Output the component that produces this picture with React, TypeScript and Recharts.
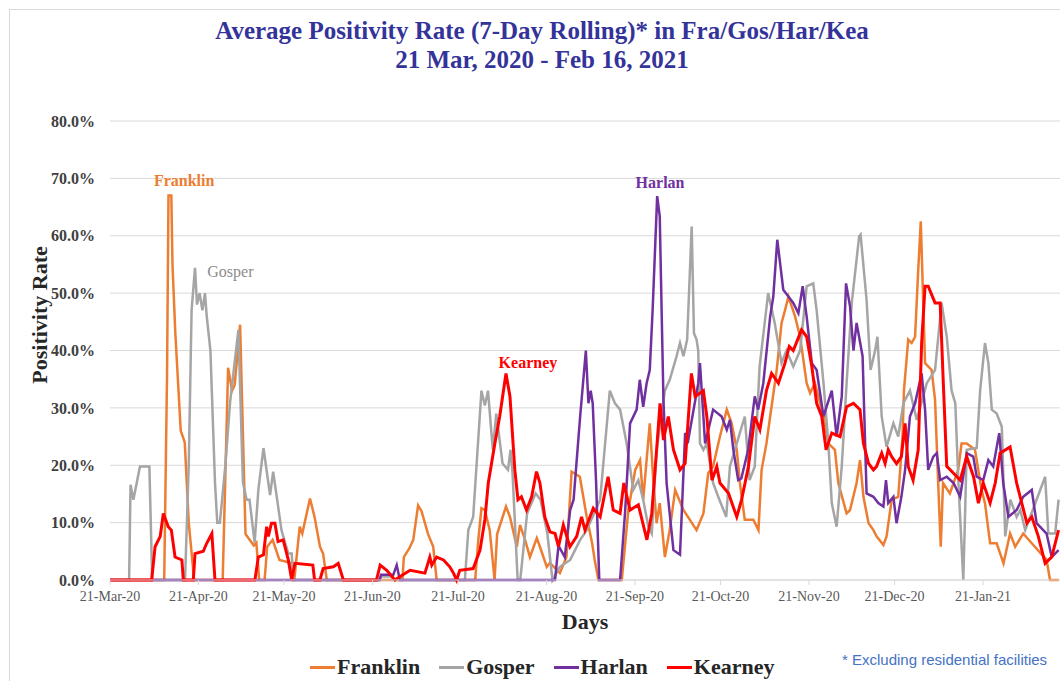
import React from 'react';
import { LineChart, Line, XAxis, YAxis, CartesianGrid, ReferenceDot } from 'recharts';

// day = days since 21-Mar-2020, value = positivity rate in %
const franklin: [number, number][] = [
  [0, 0], [19, 0], [20, 36], [20.5, 67], [21.5, 67], [21.9, 55], [22.9, 43], [24.8, 26], [26.2, 24], [27.6, 10], [29.5, 0],
  [39.5, 0], [41.4, 37], [42.8, 33], [43.7, 34], [45.6, 44.5], [47.5, 8], [50.4, 6], [51.3, 6.5], [52.3, 0],
  [54.2, 0], [55.1, 5.8], [57, 7], [59.4, 3.5], [63.2, 3], [64.1, 0], [64.6, 0], [66.5, 9.3], [67.4, 8.1],
  [70.1, 14.2], [71.7, 11], [73.6, 5.8], [74.7, 4.6], [76, 0], [102.5, 0], [103, 4], [104.9, 5.5], [106.3, 7],
  [108, 13], [109.2, 12], [111.5, 8], [113.3, 5.8], [114.5, 0], [128, 0], [129.1, 7], [130.2, 12.5], [131.4, 12.2],
  [133.1, 8.7], [134.8, 0], [135.7, 8], [138.8, 12.8], [140.2, 11], [142.6, 5.8], [143.7, 9.6], [145.5, 7],
  [147.2, 4], [149.6, 7.3], [150.7, 5.8], [153.1, 2.3], [154.2, 3], [157.7, 1.2], [160, 4], [161.8, 18.9],
  [164.7, 18], [167.1, 11], [169, 6.4], [169.9, 3.5], [171.2, 0], [179.4, 0], [181.7, 12.2], [184.1, 19.2],
  [185.8, 20.9], [186.9, 14], [189.2, 27.3], [190.5, 16.9], [191.6, 9.9], [192.7, 13.4], [194.5, 4], [196.2, 8.7],
  [198.1, 15.7], [201, 12.2], [205.6, 8.7], [208, 11.6], [209.7, 18.6], [211.4, 19.8], [213.8, 25], [216.2, 29.7],
  [217.9, 27.3], [219.7, 22.7], [220.8, 16.9], [222.5, 10.5], [225.5, 10.5], [227.3, 8.7], [228.4, 19.2],
  [230.1, 23.8], [231.4, 28.5], [233.7, 36.6], [235.4, 44.8], [236.6, 47], [237.8, 49.4], [240.1, 46], [241.9, 42.4],
  [244.2, 34.3], [245.4, 32.6], [247.1, 34.3], [250.1, 28.5], [251.8, 23.8], [254.1, 22.7], [255.3, 16.9],
  [258.2, 11.6], [259.4, 12.2], [261.7, 16.9], [262.9, 20.9], [264.1, 14.5], [265.9, 9.9], [267.6, 8.7],
  [268.7, 7.6], [271.1, 6.1], [272.2, 7.6], [274, 14], [276.3, 14.5], [277.8, 25], [278.3, 33], [279.8, 41.9],
  [281, 41.3], [282.2, 42.4], [283.3, 54], [284.2, 62.5], [285.7, 37.8], [288, 36.6], [289.2, 31.4], [290.3, 16.9],
  [291.2, 5.8], [292, 16.9], [294.4, 15.1], [297.3, 19.2], [298.5, 23.8], [300.3, 23.8], [303.2, 22.7],
  [305.5, 15.7], [306.7, 13.4], [308.5, 6.4], [310.8, 6.4], [313.2, 2.9], [315.5, 8.1], [317.3, 5.8],
  [320.1, 8.1], [323.1, 6.4], [328.3, 3.5], [329.5, 0], [332.5, 0],
];

const gosper: [number, number][] = [
  [0, 0], [6.7, 0], [7.2, 16.6], [8.2, 14], [10.5, 19.8], [13.8, 19.8], [14.8, 0], [26.3, 0], [27.6, 20],
  [28.6, 47], [29.8, 54.4], [30.5, 48], [31.4, 50], [32.4, 47], [33.3, 50], [33.9, 46], [35.2, 40], [36.8, 17],
  [37.6, 10], [38.5, 10], [39.3, 14], [40.4, 19.8], [42.1, 31], [45, 43.6], [46.6, 17], [47.9, 14], [48.9, 14],
  [50.7, 6.5], [52, 15.7], [53.8, 23], [56.1, 14.8], [57.2, 18.9], [60.1, 8.7], [62.5, 4.6], [63.7, 4.6],
  [64.2, 0], [94.5, 0], [95, 0.6], [98.7, 0.6], [99.7, 0], [124.4, 0], [125.6, 8.7], [127.3, 11], [130.2, 33],
  [131.4, 30.4], [132.5, 33], [133.7, 25.6], [134.2, 22.7], [135.4, 29], [137.6, 20.3], [139.5, 19.2],
  [140.4, 22.7], [141.1, 18.6], [142.9, 0], [143.8, 0], [146.2, 11.6], [149.2, 15.1], [150.9, 14], [153.3, 8.1],
  [155.1, 0], [157.7, 2.3], [161.3, 3.5], [164.8, 7], [167.1, 8.7], [171.8, 14], [175.2, 33], [177, 30.8],
  [178.8, 29.7], [181.1, 23.8], [183.4, 15.7], [185.2, 17.4], [186.9, 14], [188.7, 9.3], [189.9, 8.1],
  [191.6, 22.7], [194.5, 33], [196.2, 34.9], [198.6, 39], [199.8, 41.3], [201, 39], [202.3, 41.9], [203.9, 61.6],
  [204.7, 43], [205.6, 41.9], [206.2, 40], [206.8, 23.8], [208, 22.7], [209.2, 23.8], [211.4, 16.9], [213.2, 14.5],
  [216, 11], [217.3, 19.8], [219.7, 23.8], [222.5, 28.5], [224.2, 17.4], [226, 19.8], [227.7, 37.2], [230.7, 50],
  [233, 44.8], [235.4, 37.8], [237.1, 40], [239.5, 37.2], [241.9, 40], [244.2, 51.2], [246.5, 51.7], [247.7, 47],
  [250.1, 34.3], [251.8, 23.8], [253, 13.4], [254.7, 9.3], [256.5, 19.8], [258.2, 34.3], [260, 48.3],
  [262.6, 59.9], [263.1, 60.2], [265.2, 48.8], [266.6, 36.6], [268.2, 40], [269, 42.4], [270.5, 28.5],
  [272.2, 23.2], [274.6, 27.3], [276.3, 25], [278.1, 30.8], [280.4, 33], [282.8, 27.9], [286.3, 34.3],
  [289.2, 36.6], [291.5, 48.3], [293.3, 42.4], [295, 33], [296.3, 30.8], [297.4, 16.9], [299.1, 0], [299.7, 11],
  [300.3, 22.7], [303.8, 23], [305, 33], [306.7, 41.3], [307.9, 37.8], [309.1, 29.7], [310.8, 29], [312.6, 26.7],
  [313.8, 7.6], [315.6, 14], [317.8, 11], [319.1, 12.2], [320.8, 8.7], [327.8, 18], [328.9, 8.1], [331.3, 8.1],
  [332.5, 14],
];

const harlan: [number, number][] = [
  [0, 0], [94.5, 0], [95, 0.9], [99.3, 0.9], [100.5, 2.6], [101.6, 0], [156, 0], [157.2, 6], [159.4, 4],
  [161.3, 12.2], [162.5, 14], [164.8, 28.5], [166.8, 40], [167.7, 30.8], [168.5, 33], [169.2, 30.8],
  [170.4, 16.9], [171.5, 0], [178.8, 0], [180.6, 12.2], [182.3, 27.3], [184.6, 29.7], [185.7, 34.9],
  [186.9, 30.2], [188.1, 34.3], [189.2, 36.6], [190.2, 47], [191.8, 66.9], [192.7, 63.4], [193.4, 45.9],
  [194, 31.4], [195.1, 16.9], [197.5, 5.2], [199.8, 4.4], [201.6, 25.6], [202.7, 24.4], [206.2, 34.3],
  [206.8, 37.8], [208.6, 23.8], [211.4, 29.7], [214.4, 28.5], [216.2, 26.2], [217.3, 27.9], [218.5, 22.7],
  [220.2, 17.4], [221.3, 17.7], [223.7, 22.7], [226, 32], [227.2, 29.7], [229, 34.3], [231.4, 45.9],
  [232.5, 49.4], [233.9, 59.3], [236, 50.6], [237.8, 49.4], [239.5, 48.3], [241.3, 46.5], [242.8, 51.2],
  [244.2, 45.9], [246, 37.8], [247.7, 36.6], [250.1, 28.5], [253, 33], [254.7, 25], [256.5, 32], [258, 51.7],
  [259.4, 47.7], [260.6, 40], [261.7, 44.8], [263.8, 39], [265.2, 15.1], [267.6, 14.5], [269.3, 13.4],
  [271.1, 12.8], [272, 17.4], [272.8, 13.4], [274.6, 14.5], [275.7, 9.9], [277.4, 14.5], [278.7, 19.2],
  [280.4, 28.5], [282.2, 30.8], [284.5, 36], [285.7, 29.7], [286.8, 19.2], [288.6, 21.5], [289.8, 22.1],
  [291, 17.4], [293.3, 18], [295.7, 16.9], [298, 14.5], [300.3, 22.1], [302.6, 21.5], [303.8, 18], [306.1, 17.4],
  [307.9, 20.9], [309.6, 19.8], [311.7, 25.6], [313.1, 16.9], [314.9, 11], [317.8, 12.2], [320.1, 14.5],
  [323.1, 15.7], [324.8, 9.9], [328.3, 8.1], [330.1, 4], [332.5, 5.2],
];

const kearney: [number, number][] = [
  [0, 0], [14.6, 0], [15.8, 5.8], [17.6, 7.6], [18.7, 11.6], [20.4, 9.3], [21.5, 8.7], [22.8, 4], [25.2, 3.5],
  [25.7, 0], [29.2, 0], [29.8, 4.6], [32.7, 5], [33.9, 6.4], [35.7, 8.1], [36.8, 0], [50.8, 0], [52, 4],
  [53.8, 4.4], [54.9, 9.3], [55.5, 7.6], [56.6, 9.9], [57.8, 9.9], [58.9, 6.7], [60.7, 7], [62.5, 3.5],
  [63.7, 0], [64.8, 2.9], [71.1, 2.6], [71.7, 0], [73.6, 0], [74.7, 2], [78.3, 2.3], [80, 2.9], [81.8, 0],
  [93.4, 0], [94.7, 2.6], [97, 1.7], [99.9, 0], [101.7, 0.6], [105.2, 1.7], [110.4, 1.2], [112.1, 4],
  [112.8, 2.6], [114.5, 4], [116.9, 3.5], [119.1, 2.3], [120.4, 1.2], [121.5, 0], [122.6, 1.7], [127.3, 2],
  [129.7, 5.2], [131.4, 10.5], [132.6, 16.9], [134.9, 23.8], [136.6, 28.5], [138.8, 36], [140.2, 32],
  [141.9, 19.2], [143, 14], [144.2, 14.5], [146, 12.2], [147.8, 14.5], [149.5, 18.9], [150.7, 16.9],
  [152.4, 11], [154.2, 8.4], [156, 8.1], [157.2, 5.8], [158.9, 9.6], [161.2, 5.8], [163.6, 7.6], [165.3, 11],
  [166.5, 8.7], [169.4, 12.5], [171.8, 11], [174.6, 18], [176.4, 12.2], [178.8, 11.6], [180.1, 16.9],
  [182.3, 12.2], [185.2, 13.1], [188.2, 7], [189.9, 11.6], [191.6, 22.7], [192.8, 30.8], [194, 24.4],
  [195.7, 28.5], [197.5, 22.7], [199.8, 19.2], [201.6, 20.3], [203.8, 36], [205.1, 32], [208, 33], [209.2, 28.5],
  [211, 17.4], [212.7, 19.8], [213.8, 16.9], [216.8, 15.1], [219.7, 11], [221.4, 14], [223.8, 19.8], [226, 28.5],
  [227.8, 26.2], [230.1, 33], [231.9, 36], [234.3, 34.3], [236.6, 37.8], [238.1, 40.7], [239.5, 40],
  [242.4, 43.6], [244.2, 42.4], [246, 37.2], [247.7, 30.8], [249.5, 28.5], [251, 22.7], [253, 25.6], [255.9, 25],
  [258.2, 30.2], [260.6, 30.8], [262.9, 29.7], [264.1, 23.8], [265.9, 20.3], [267.6, 19.2], [268.7, 19.8],
  [270.5, 22.1], [271.7, 20.3], [272.8, 22.7], [274, 21.5], [275.7, 20.3], [277.4, 21.5], [278.7, 27.3],
  [279.8, 19.8], [281.5, 17.4], [283.3, 22.7], [284.5, 41.3], [285.7, 51.2], [286.8, 51.2], [289.2, 48.3],
  [291, 48.3], [292.1, 34.3], [293.3, 19.8], [295.7, 18.6], [298, 17.4], [300.3, 21.5], [302.7, 18],
  [304.4, 13.4], [306.1, 16.9], [308.5, 13.4], [310.3, 16.9], [312, 22.1], [315.5, 23.2], [317.8, 16.9],
  [321.4, 9.9], [323.1, 11], [325.4, 7.6], [327.8, 2.9], [330.1, 4], [332.5, 8.7],
];

const tickDays = [0, 31, 61, 92, 122, 153, 184, 214, 245, 275, 306];
const tickLabels = ['21-Mar-20', '21-Apr-20', '21-May-20', '21-Jun-20', '21-Jul-20', '21-Aug-20', '21-Sep-20', '21-Oct-20', '21-Nov-20', '21-Dec-20', '21-Jan-21'];
const yTicks = [0, 10, 20, 30, 40, 50, 60, 70, 80];

const SERIES = [
  { name: 'Franklin', color: '#ED7D31', points: franklin, width: 2.5 },
  { name: 'Gosper', color: '#A5A5A5', points: gosper, width: 2.5 },
  { name: 'Harlan', color: '#7030A0', points: harlan, width: 2.5 },
  { name: 'Kearney', color: '#FF0000', points: kearney, width: 3 },
];

const SERIF = '"Liberation Serif", "DejaVu Serif", serif';

export default function App() {
  return (
    <div style={{ position: 'absolute', left: 0, top: 0, width: 1060, height: 681, overflow: 'hidden', background: '#fff', fontFamily: SERIF }}>
      <div style={{ position: 'absolute', left: 9, top: 9, width: 1200, height: 800, borderLeft: '1px solid #d9d9d9', borderTop: '1px solid #d9d9d9' }} />
      <div style={{ position: 'absolute', left: 0, top: 16, width: 1084, textAlign: 'center', color: '#333399', fontWeight: 'bold', fontSize: 25, lineHeight: '29px' }}>
        Average Positivity Rate (7-Day Rolling)* in Fra/Gos/Har/Kea
        <br />
        21 Mar, 2020 - Feb 16, 2021
      </div>

      <div style={{ position: 'absolute', top: 0, left: 0 }}>
        <LineChart width={1060} height={681} margin={{ top: 121, right: 0, left: 0, bottom: 71 }}>
          <CartesianGrid horizontal vertical={false} stroke="#d9d9d9" />
          <XAxis
            type="number"
            dataKey="day"
            domain={[0, 333]}
            ticks={tickDays}
            tickFormatter={(v: number) => tickLabels[tickDays.indexOf(v)] ?? ''}
            allowDataOverflow
            height={30}
            stroke="#d9d9d9"
            tickSize={5}
            tickMargin={6}
            tick={{ fill: '#595959', fontSize: 14, fontFamily: SERIF }}
          />
          <YAxis
            type="number"
            domain={[0, 80]}
            ticks={yTicks}
            width={110}
            axisLine={false}
            tickLine={false}
            tickSize={0}
            tickMargin={15}
            tickFormatter={(v: number) => `${v.toFixed(1)}%`}
            tick={{ fill: '#404040', fontSize: 16, fontWeight: 'bold', fontFamily: SERIF }}
          />
          {SERIES.map((s) => (
            <Line
              key={s.name}
              data={s.points.map(([day, v]) => ({ day, v }))}
              dataKey="v"
              name={s.name}
              type="linear"
              stroke={s.color}
              strokeWidth={s.width}
              dot={false}
              activeDot={false}
              isAnimationActive={false}
            />
          ))}
          <ReferenceDot x={26} y={69.7} r={0} fill="none" stroke="none"
            label={{ value: 'Franklin', position: 'center', fill: '#ED7D31', fontSize: 16, fontWeight: 'bold', fontFamily: SERIF }} />
          <ReferenceDot x={42.2} y={53.8} r={0} fill="none" stroke="none"
            label={{ value: 'Gosper', position: 'center', fill: '#8c8c8c', fontSize: 16, fontFamily: SERIF }} />
          <ReferenceDot x={192.8} y={69.3} r={0} fill="none" stroke="none"
            label={{ value: 'Harlan', position: 'center', fill: '#7030A0', fontSize: 16, fontWeight: 'bold', fontFamily: SERIF }} />
          <ReferenceDot x={146.5} y={38} r={0} fill="none" stroke="none"
            label={{ value: 'Kearney', position: 'center', fill: '#FF0000', fontSize: 16, fontWeight: 'bold', fontFamily: SERIF }} />
        </LineChart>
      </div>

      <div style={{ position: 'absolute', left: 40, top: 315, transform: 'translate(-50%, -50%) rotate(-90deg)', whiteSpace: 'nowrap', fontWeight: 'bold', fontSize: 22, color: '#262626' }}>
        Positivity Rate
      </div>
      <div style={{ position: 'absolute', left: 585, top: 622, transform: 'translate(-50%, -50%)', fontWeight: 'bold', fontSize: 22, color: '#262626' }}>
        Days
      </div>

      <div style={{ position: 'absolute', left: 310, top: 654, display: 'flex', alignItems: 'center', fontWeight: 'bold', fontSize: 22, color: '#262626' }}>
        {SERIES.map((s) => (
          <div key={s.name} style={{ display: 'flex', alignItems: 'center', marginRight: 19 }}>
            <span style={{ display: 'inline-block', width: 25, height: 3, background: s.color, marginRight: 2 }} />
            <span>{s.name}</span>
          </div>
        ))}
      </div>
      <div style={{ position: 'absolute', left: 842, top: 651, fontFamily: '"Liberation Sans", Arial, sans-serif', fontSize: 15, color: '#4472C4' }}>
        * Excluding residential facilities
      </div>
    </div>
  );
}
